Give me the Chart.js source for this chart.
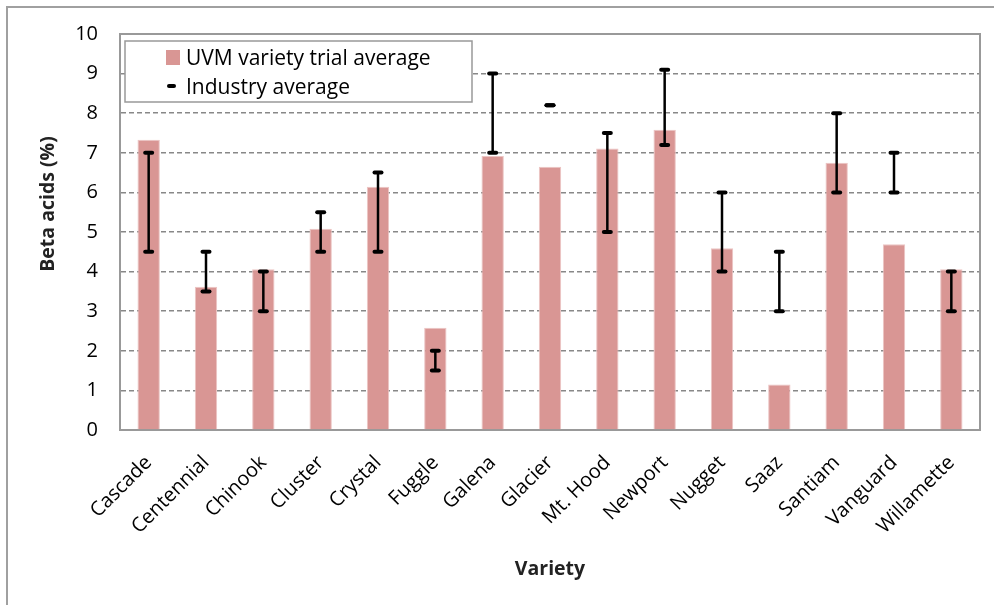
<!DOCTYPE html>
<html>
<head>
<meta charset="utf-8">
<script src="https://cdn.jsdelivr.net/npm/chart.js@4.4.0/dist/chart.umd.min.js"></script>
<style>
  html, body { margin: 0; padding: 0; background: #fff; overflow: hidden; }
  #frame { position: absolute; left: 6px; top: 6px; width: 1200px; height: 900px;
           border-left: 2px solid #a0a0a0; border-top: 2px solid #a0a0a0; }
  #wrap { position: absolute; left: 0; top: 0; width: 994px; height: 605px; }
</style>
</head>
<body>
<div id="frame"></div>
<div id="wrap"><canvas id="c" width="994" height="605"></canvas></div>
<script>
const categories = ["Cascade","Centennial","Chinook","Cluster","Crystal","Fuggle","Galena","Glacier","Mt. Hood","Newport","Nugget","Saaz","Santiam","Vanguard","Willamette"];
const uvmAverage = [7.33, 3.62, 4.06, 5.08, 6.14, 2.58, 6.92, 6.65, 7.11, 7.58, 4.59, 1.15, 6.75, 4.69, 4.06];
const industryLow  = [4.5, 3.5, 3.0, 4.5, 4.5, 1.5, 7.0, 8.2, 5.0, 7.2, 4.0, 3.0, 6.0, 6.0, 3.0];
const industryHigh = [7.0, 4.5, 4.0, 5.5, 6.5, 2.0, 9.0, 8.2, 7.5, 9.1, 6.0, 4.5, 8.0, 7.0, 4.0];
const yTicks = [0,1,2,3,4,5,6,7,8,9,10];

const FONT = "'Open Sans', 'Noto Sans', sans-serif";
const BAR = '#d99694';

const plotBorder = {
  id: 'plotBorder',
  beforeDatasetsDraw(chart) {
    const {ctx, chartArea: a} = chart;
    ctx.save();
    ctx.setLineDash([]);
    ctx.strokeStyle = '#999';
    ctx.lineWidth = 2;
    ctx.strokeRect(a.left, a.top, a.right - a.left, a.bottom - a.top);
    ctx.restore();
  }
};

const errorBars = {
  id: 'errorBars',
  afterDatasetsDraw(chart) {
    const {ctx} = chart;
    const xs = chart.scales.x, ys = chart.scales.y;
    ctx.save();
    ctx.setLineDash([]);
    ctx.strokeStyle = '#000';
    for (let i = 0; i < categories.length; i++) {
      const x = xs.getPixelForValue(i);
      const yl = ys.getPixelForValue(industryLow[i]);
      const yh = ys.getPixelForValue(industryHigh[i]);
      ctx.lineWidth = 2.5;
      ctx.lineCap = 'butt';
      ctx.beginPath(); ctx.moveTo(x, yh); ctx.lineTo(x, yl); ctx.stroke();
      ctx.lineWidth = 4;
      ctx.lineCap = 'round';
      [yl, yh].forEach(y => {
        ctx.beginPath(); ctx.moveTo(x - 3.5, y); ctx.lineTo(x + 3.5, y); ctx.stroke();
      });
    }
    ctx.restore();
  }
};

const boxLegend = {
  id: 'boxLegend',
  afterDraw(chart) {
    const {ctx} = chart;
    ctx.save();
    ctx.setLineDash([]);
    ctx.fillStyle = '#fff';
    ctx.fillRect(125, 41, 347, 61);
    ctx.strokeStyle = '#999';
    ctx.lineWidth = 1.5;
    ctx.strokeRect(125, 41, 347, 61);
    ctx.fillStyle = BAR;
    ctx.fillRect(166, 50, 14, 15);
    ctx.strokeStyle = '#000';
    ctx.lineWidth = 4;
    ctx.lineCap = 'round';
    ctx.beginPath(); ctx.moveTo(169, 86); ctx.lineTo(174, 86); ctx.stroke();
    ctx.fillStyle = '#000';
    ctx.font = "21px " + FONT;
    ctx.textBaseline = 'alphabetic';
    ctx.textAlign = 'left';
    ctx.fillText(chart.data.datasets[0].label, 186, 65);
    ctx.fillText('Industry average', 186, 94);
    ctx.restore();
  }
};

const yTitle = {
  id: 'yTitle',
  afterDraw(chart) {
    const {ctx} = chart;
    ctx.save();
    ctx.translate(48, 204);
    ctx.rotate(-Math.PI / 2);
    ctx.font = "bold 19.5px " + FONT;
    ctx.fillStyle = '#222';
    ctx.textAlign = 'center';
    ctx.textBaseline = 'middle';
    ctx.fillText('Beta acids (%)', 0, 0);
    ctx.restore();
  }
};

new Chart(document.getElementById('c'), {
  type: 'bar',
  data: {
    labels: categories,
    datasets: [{
      label: 'UVM variety trial average',
      data: uvmAverage,
      backgroundColor: BAR,
      borderColor: '#ecc4c3',
      borderWidth: {left: 1, right: 1, top: 1, bottom: 0},
      barPercentage: 0.78,
      categoryPercentage: 0.5
    }]
  },
  options: {
    responsive: false,
    animation: false,
    events: [],
    layout: { padding: { top: 34, right: 14, left: 0, bottom: 0 } },
    plugins: { legend: { display: false }, tooltip: { enabled: false } },
    scales: {
      x: {
        grid: { display: false },
        border: { display: true, color: '#999', width: 2 },
        ticks: {
          color: '#000',
          font: { family: FONT, size: 20 },
          minRotation: 45, maxRotation: 45, autoSkip: false, padding: 13
        },
        title: {
          display: true, text: 'Variety', color: '#222',
          font: { family: FONT, size: 19.5, weight: 'bold' },
          padding: { top: 0, bottom: 24 }
        },
        afterFit(s) { s.height = 175; }
      },
      y: {
        min: 0, max: 10,
        afterBuildTicks(s) { s.ticks = yTicks.map(v => ({ value: v })); },
        grid: {
          color: '#888', lineWidth: 1.5, drawTicks: false
        },
        border: { display: true, color: '#999', width: 2, dash: [5, 3] },
        ticks: {
          color: '#000',
          font: { family: FONT, size: 20 },
          padding: 22
        },
        afterFit(s) { s.width = 120; }
      }
    }
  },
  plugins: [plotBorder, errorBars, boxLegend, yTitle]
});
</script>
</body>
</html>
